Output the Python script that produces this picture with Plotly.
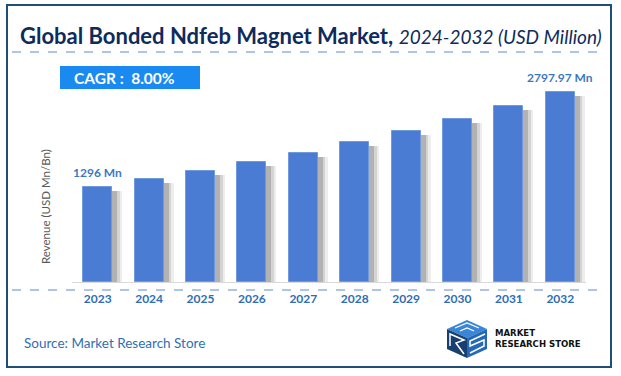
import plotly.graph_objects as go

# ---- data ----
years = ["2023", "2024", "2025", "2026", "2027", "2028", "2029", "2030", "2031", "2032"]
revenue = [1400, 1512, 1633, 1763, 1904, 2057, 2221, 2399, 2591, 2797.97]
bar_labels = ["1296 Mn", "", "", "", "", "", "", "", "", "2797.97 Mn"]
title_main = "Global Bonded Ndfeb Magnet Market,"
title_sub = "2024-2032 (USD Million)"
cagr_text = "CAGR :  8.00%"
y_title = "Revenue (USD Mn/Bn)"
source_text = "Source: Market Research Store"

W, H = 621, 376
L, R, T, B = 72, 35, 72, 94
PW, PH = W - L - R, H - T - B
YMAX = 3092


def PX(x):
    return (x - L) / PW


def PY(y):
    return (H - B - y) / PH


step = PW / len(years)
bw = 29 / step
FONT = "Lato"

fig = go.Figure()

# soft shadows
shadow_y = [v - 4 * YMAX / PH for v in revenue]
fig.add_trace(go.Bar(x=years, y=shadow_y, width=bw + 7 / step, offset=-bw / 2 + 3 / step,
                     marker=dict(color="rgba(0,0,0,0.07)", line=dict(width=0)),
                     hoverinfo="skip", showlegend=False))
fig.add_trace(go.Bar(x=years, y=shadow_y, width=bw + 4.5 / step, offset=-bw / 2 + 3 / step,
                     marker=dict(color="rgba(0,0,0,0.10)", line=dict(width=0)),
                     hoverinfo="skip", showlegend=False))
fig.add_trace(go.Bar(x=years, y=shadow_y, width=bw + 2 / step, offset=-bw / 2 + 3 / step,
                     marker=dict(color="rgba(0,0,0,0.16)", line=dict(width=0)),
                     hoverinfo="skip", showlegend=False))
# main bars
fig.add_trace(go.Bar(x=years, y=revenue, width=bw, offset=-bw / 2,
                     marker=dict(color="#4A7CD4", line=dict(color="#7199DE", width=1)),
                     showlegend=False))

annotations = []
for i, (v, lab) in enumerate(zip(revenue, bar_labels)):
    if lab:
        annotations.append(dict(x=i, y=v, xref="x", yref="y", text=lab, showarrow=False,
                                xanchor="center", yanchor="middle", yshift=14,
                                font=dict(family=FONT, size=12, color="#3B78C3", weight="bold")))

annotations += [
    dict(x=PX(311), y=PY(36), xref="paper", yref="paper", showarrow=False,
         xanchor="center", yanchor="middle",
         text=f"<b>{title_main}</b> <i><span style='font-size:19px'>{title_sub}</span></i>",
         font=dict(family=FONT, size=22, color="#0D2B5C")),
    dict(x=PX(72), y=PY(77.5), xref="paper", yref="paper", showarrow=False,
         xanchor="left", yanchor="middle", text=f"<b>{cagr_text}</b>",
         font=dict(family=FONT, size=15.5, color="white")),
    dict(x=PX(45), y=PY(207), xref="paper", yref="paper", showarrow=False,
         xanchor="center", yanchor="middle", textangle=-90, text=y_title,
         font=dict(family=FONT, size=11.5, color="#595959")),
    dict(x=PX(22), y=PY(343), xref="paper", yref="paper", showarrow=False,
         xanchor="left", yanchor="middle", text=source_text,
         font=dict(family=FONT, size=13.5, color="#2F6EB5")),
    dict(x=PX(493), y=PY(332), xref="paper", yref="paper", showarrow=False,
         xanchor="left", yanchor="middle", text="<b>MARKET</b>",
         font=dict(family="DejaVu Sans Condensed", size=9.5, color="#111111")),
    dict(x=PX(493), y=PY(343), xref="paper", yref="paper", showarrow=False,
         xanchor="left", yanchor="middle", text="<b>RESEARCH STORE</b>",
         font=dict(family="DejaVu Sans Condensed", size=9.5, color="#111111")),
]


def poly(pts, color):
    d = "M " + " L ".join(f"{PX(x):.5f},{PY(y):.5f}" for x, y in pts) + " Z"
    return dict(type="path", xref="paper", yref="paper", path=d,
                fillcolor=color, line=dict(width=0), layer="above")


shapes = [
    dict(type="rect", xref="paper", yref="paper", x0=PX(7), x1=PX(611), y0=PY(5), y1=PY(367),
         line=dict(color="#1F4E79", width=2), layer="below"),
    dict(type="line", xref="paper", yref="paper", x0=PX(12), x1=PX(603), y0=PY(52), y1=PY(52),
         line=dict(color="#5B8BD0", width=1, dash="dash")),
    dict(type="line", xref="paper", yref="paper", x0=PX(12), x1=PX(604), y0=PY(290), y1=PY(290),
         line=dict(color="#5B8BD0", width=1, dash="dash")),
    dict(type="rect", xref="paper", yref="paper", x0=PX(60), x1=PX(200), y0=PY(66), y1=PY(89),
         fillcolor="#1B8AF0", line=dict(width=0), layer="below"),
    # logo cube
    poly([(467, 320), (487, 329), (467, 338), (447, 329)], "#3A86D6"),
    poly([(447, 329), (467, 338), (467, 358), (447, 349)], "#17406F"),
    poly([(467, 338), (487, 329), (487, 349), (467, 358)], "#2668B8"),
    dict(type="path", xref="paper", yref="paper", layer="above",
         path=(f"M {PX(485):.5f},{PY(334):.5f} L {PX(470):.5f},{PY(341):.5f} L {PX(470):.5f},{PY(346):.5f} "
               f"L {PX(484):.5f},{PY(340):.5f} L {PX(484):.5f},{PY(346):.5f} L {PX(470):.5f},{PY(353):.5f}"),
         line=dict(color="white", width=1.5)),
    dict(type="path", xref="paper", yref="paper", layer="above",
         path=(f"M {PX(450):.5f},{PY(346):.5f} L {PX(450):.5f},{PY(334):.5f} L {PX(464):.5f},{PY(340):.5f} "
               f"L {PX(456):.5f},{PY(343):.5f} L {PX(464):.5f},{PY(354):.5f}"),
         line=dict(color="white", width=1.5)),
    dict(type="path", xref="paper", yref="paper", layer="above",
         path=(f"M {PX(455):.5f},{PY(328):.5f} L {PX(467):.5f},{PY(323):.5f} L {PX(479):.5f},{PY(328):.5f} "
               f"M {PX(460):.5f},{PY(331):.5f} L {PX(467):.5f},{PY(328):.5f} L {PX(474):.5f},{PY(331):.5f}"),
         line=dict(color="white", width=1.2)),
]

fig.update_layout(
    width=W, height=H, margin=dict(l=L, r=R, t=T, b=B, autoexpand=False),
    paper_bgcolor="white", plot_bgcolor="white",
    barmode="overlay", bargap=0,
    xaxis=dict(type="category", categoryorder="array", categoryarray=years,
               range=[-0.5, len(years) - 0.5], automargin=False,
               showline=True, linecolor="#D9D9D9", linewidth=1,
               ticks="", ticklabelstandoff=6, showgrid=False, zeroline=False,
               tickfont=dict(family=FONT, size=12, color="#2E6DB4", weight="bold")),
    yaxis=dict(range=[0, YMAX], visible=False, showgrid=False, zeroline=False, automargin=False),
    annotations=annotations, shapes=shapes,
    showlegend=False,
)

fig.write_html("out.html", config={"displayModeBar": False},
               post_script="document.body.style.margin='0';")
